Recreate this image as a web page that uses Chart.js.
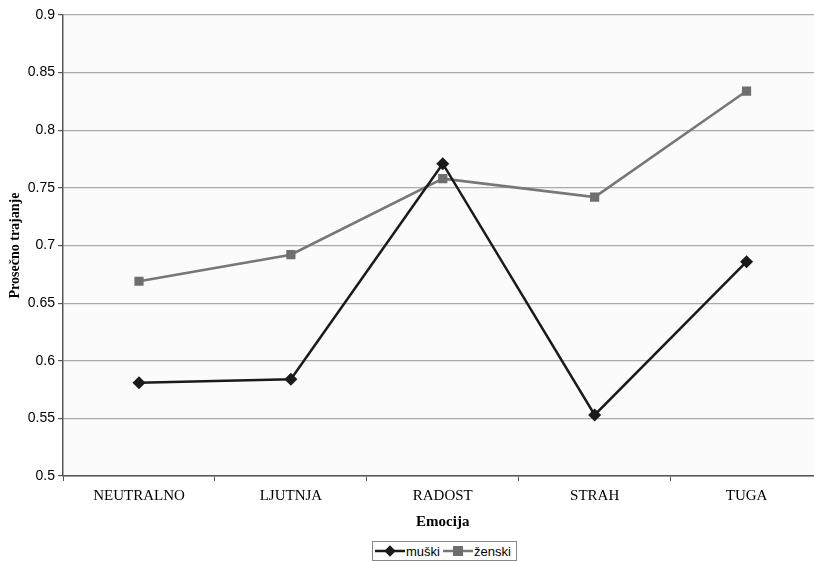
<!DOCTYPE html>
<html>
<head>
<meta charset="utf-8">
<script src="https://cdn.jsdelivr.net/npm/chart.js@4/dist/chart.umd.min.js"></script>
<style>
  body { margin: 0; background: #fff; overflow: hidden; }
  #wrap { position: relative; width: 814px; height: 561px; overflow: hidden; }
  #legend {
    position: absolute; left: 372px; top: 541px; height: 18px;
    border: 1px solid #888; background: #fff;
    font: 13px "Liberation Sans", Arial, sans-serif; color: #000;
    display: flex; align-items: center; padding: 0 2px;
  }
  #legend span { display: inline-flex; align-items: center; margin-right: 3px; }
  #legend svg { margin-right: 1px; }
</style>
</head>
<body>
<div id="wrap">
  <canvas id="chart" width="829" height="561"></canvas>
  <div id="legend"></div>
</div>
<script>
const categories = ['NEUTRALNO', 'LJUTNJA', 'RADOST', 'STRAH', 'TUGA'];
const muski = [0.581, 0.584, 0.771, 0.553, 0.686];
const zenski = [0.669, 0.692, 0.758, 0.742, 0.834];
const yTicks = [0.5, 0.55, 0.6, 0.65, 0.7, 0.75, 0.8, 0.85, 0.9];

const plotBg = {
    id: 'plotBg',
    beforeDraw(chart) {
        const { ctx, chartArea: a } = chart;
        ctx.save();
        ctx.fillStyle = '#fbfbfb';
        ctx.fillRect(a.left, a.top, a.right - a.left, a.bottom - a.top);
        ctx.restore();
    }
};

const ctx = document.getElementById('chart').getContext('2d');
new Chart(ctx, {
    type: 'line',
    data: {
        labels: categories,
        datasets: [{
            label: 'muški',
            data: muski,
            borderColor: '#1a1a1a',
            backgroundColor: '#1a1a1a',
            borderWidth: 2.5,
            pointStyle: 'rectRot',
            pointRadius: 6.5,
            pointBorderWidth: 0,
            tension: 0
        }, {
            label: 'ženski',
            data: zenski,
            borderColor: '#777777',
            backgroundColor: '#6e6e6e',
            borderWidth: 2.5,
            pointStyle: 'rect',
            pointRadius: 6.5,
            pointBorderWidth: 0,
            tension: 0
        }]
    },
    options: {
        responsive: false,
        animation: false,
        layout: { padding: { top: 15, right: 0, bottom: 26, left: 3 } },
        plugins: {
            legend: { display: false },
            tooltip: { enabled: false }
        },
        scales: {
            x: {
                offset: true,
                grid: { offset: true, drawOnChartArea: false, drawTicks: true, tickLength: 5, color: '#555' },
                border: { color: '#555', width: 1.5 },
                ticks: { color: '#000', padding: 6, font: { family: 'Liberation Serif', size: 15 } },
                title: { display: true, text: 'Emocija', color: '#000', padding: { top: 2 },
                         font: { family: 'Liberation Serif', size: 15, weight: 'bold' } }
            },
            y: {
                min: 0.5, max: 0.9,
                afterBuildTicks: axis => { axis.ticks = yTicks.map(v => ({ value: v })); },
                grid: { color: '#aaaaaa', tickColor: '#555', tickLength: 5, lineWidth: 1.2 },
                border: { color: '#555', width: 1.5 },
                ticks: { color: '#000', padding: 3, font: { family: 'Liberation Sans', size: 14 },
                         callback: v => String(+v.toFixed(2)) },
                title: { display: true, text: 'Prosečno trajanje', color: '#000', padding: { top: 4, bottom: 1 },
                         font: { family: 'Liberation Serif', size: 14, weight: 'bold' } }
            }
        }
    },
    plugins: [plotBg]
});

// legend with border box, like the original
const legend = document.getElementById('legend');
legend.innerHTML =
    '<span><svg width="30" height="12"><line x1="0" y1="6" x2="30" y2="6" stroke="#1a1a1a" stroke-width="2.5"/>' +
    '<rect x="11" y="2" width="8" height="8" fill="#1a1a1a" transform="rotate(45 15 6)"/></svg>muški</span>' +
    '<span><svg width="30" height="12"><line x1="0" y1="6" x2="30" y2="6" stroke="#777" stroke-width="2.5"/>' +
    '<rect x="10" y="1" width="10" height="10" fill="#6e6e6e"/></svg>ženski</span>';
</script>
</body>
</html>
